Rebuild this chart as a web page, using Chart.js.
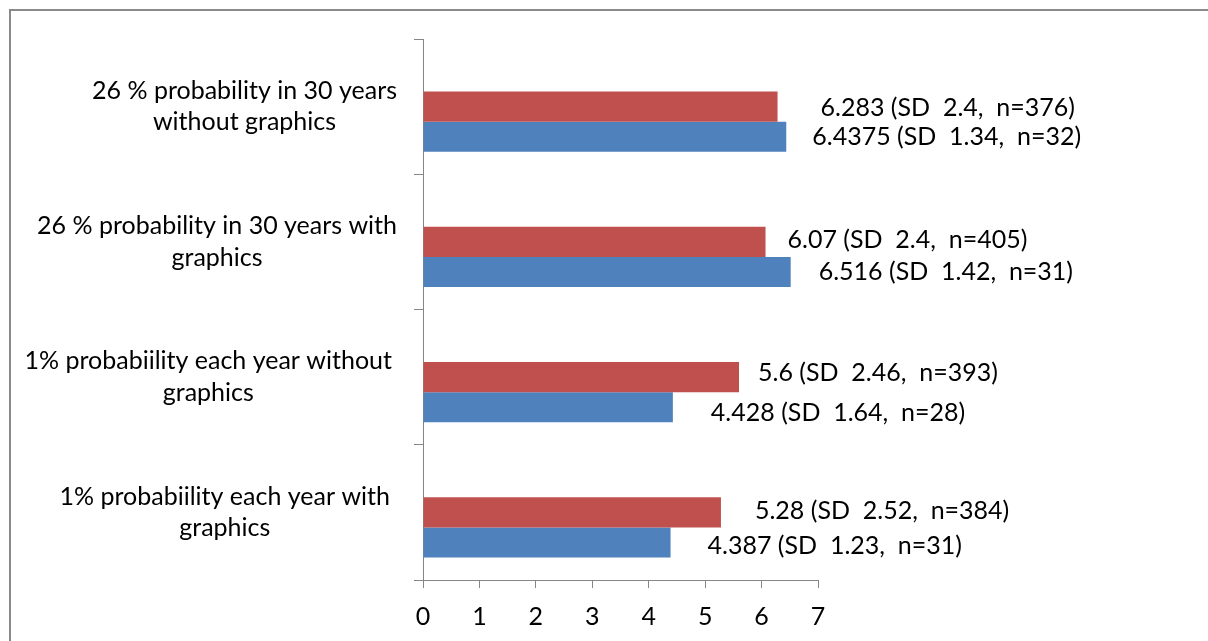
<!DOCTYPE html>
<html>
<head>
<meta charset="utf-8">
<script src="https://cdn.jsdelivr.net/npm/chart.js@4/dist/chart.umd.min.js"></script>
<style>
  html, body { margin: 0; padding: 0; background: #fff; }
  canvas { display: block; }
</style>
</head>
<body>
<canvas id="chart" width="1208" height="641"></canvas>
<script>
// Survey groups, listed top to bottom
const categories = [
  ["26 % probability in 30 years", "without graphics"],
  ["26 % probability in 30 years with", "graphics"],
  ["1% probabiility each year without", "graphics"],
  ["1% probabiility each year with", "graphics"]
];

// Red series: mean, SD and sample size
const redMeans = [6.283, 6.07, 5.6, 5.28];
const redSD    = [2.4, 2.4, 2.46, 2.52];
const redN     = [376, 405, 393, 384];

// Blue series: mean, SD and sample size
const blueMeans = [6.4375, 6.516, 4.428, 4.387];
const blueSD    = [1.34, 1.42, 1.64, 1.23];
const blueN     = [32, 31, 28, 31];

// Empty third series that reserves the top slot of each group
const spacer = [null, null, null, null];

const xTicks = [0, 1, 2, 3, 4, 5, 6, 7];

// Styling
const FONT = "Lato, 'Open Sans', sans-serif";
const FONT_SIZE = 25;
const RED = '#C0504D';
const BLUE = '#4F81BD';
const AXIS = '#868686';

// Right edge of each category label block
const catLabelRight = [397, 397, 392, 390];

// Hand-placed label nudges (pixels from bar end / bar centre)
const redLabelDX  = [43, 22, 19, 34];
const redLabelDY  = [1, -2, -4, -1];
const blueLabelDX = [26, 28, 38, 37];
const blueLabelDY = [0, 0, 6, 4];

const fmt = (m, sd, n) => `${m} (SD  ${sd},  n=${n})`;

const frame = {
  id: 'frame',
  beforeDraw(chart) {
    const c = chart.ctx;
    c.save();
    c.fillStyle = '#fff';
    c.fillRect(0, 0, chart.width, chart.height);
    c.strokeStyle = '#8a8a8a';
    c.lineWidth = 2;
    c.beginPath();
    c.moveTo(10, chart.height + 5);
    c.lineTo(10, 10);
    c.lineTo(chart.width + 5, 10);
    c.stroke();
    c.restore();
  }
};

const categoryLabels = {
  id: 'categoryLabels',
  afterDraw(chart) {
    const c = chart.ctx;
    const y = chart.scales.y;
    const lineGap = 31.5;
    c.save();
    c.font = `${FONT_SIZE}px ${FONT}`;
    c.fillStyle = '#000';
    c.textAlign = 'center';
    c.textBaseline = 'middle';
    categories.forEach((lines, i) => {
      const cy = y.getPixelForValue(i);
      const widest = Math.max(...lines.map(l => c.measureText(l).width));
      const cx = catLabelRight[i] - widest / 2;
      const y0 = cy - (lines.length - 1) * lineGap / 2;
      lines.forEach((l, k) => c.fillText(l, cx, y0 + k * lineGap));
    });
    c.restore();
  }
};

const valueLabels = {
  id: 'valueLabels',
  afterDatasetsDraw(chart) {
    const c = chart.ctx;
    c.save();
    c.font = `${FONT_SIZE}px ${FONT}`;
    c.fillStyle = '#000';
    c.textAlign = 'left';
    c.textBaseline = 'middle';
    const redBars = chart.getDatasetMeta(1).data;
    const blueBars = chart.getDatasetMeta(2).data;
    redBars.forEach((b, i) => {
      c.fillText(fmt(redMeans[i], redSD[i], redN[i]), b.x + redLabelDX[i], b.y + redLabelDY[i]);
    });
    blueBars.forEach((b, i) => {
      c.fillText(fmt(blueMeans[i], blueSD[i], blueN[i]), b.x + blueLabelDX[i], b.y + blueLabelDY[i]);
    });
    c.restore();
  }
};

new Chart(document.getElementById('chart'), {
  type: 'bar',
  data: {
    labels: categories.map(l => l.join(' ')),
    datasets: [
      { label: '', data: spacer, backgroundColor: 'rgba(0,0,0,0)' },
      { label: 'Red', data: redMeans, backgroundColor: RED },
      { label: 'Blue', data: blueMeans, backgroundColor: BLUE }
    ]
  },
  options: {
    indexAxis: 'y',
    responsive: false,
    animation: false,
    events: [],
    categoryPercentage: 90 / 135,
    barPercentage: 1,
    layout: { padding: { top: 39, right: 390, left: 0, bottom: 0 } },
    plugins: {
      legend: { display: false },
      tooltip: { enabled: false },
      title: { display: false }
    },
    scales: {
      x: {
        type: 'linear',
        min: xTicks[0],
        max: xTicks[xTicks.length - 1],
        afterBuildTicks(scale) { scale.ticks = xTicks.map(v => ({ value: v })); },
        afterFit(scale) { scale.height = 61; },
        grid: { drawOnChartArea: false, drawTicks: true, tickLength: 8, color: AXIS },
        border: { display: true, color: AXIS, width: 1 },
        ticks: {
          color: '#000',
          padding: 14,
          font: { family: FONT, size: FONT_SIZE },
          maxRotation: 0
        }
      },
      y: {
        afterFit(scale) { scale.width = 423; },
        grid: { drawOnChartArea: false, drawTicks: true, tickLength: 9, color: AXIS, offset: true },
        border: { display: true, color: AXIS, width: 1 },
        ticks: { display: false }
      }
    }
  },
  plugins: [frame, categoryLabels, valueLabels]
});
</script>
</body>
</html>
